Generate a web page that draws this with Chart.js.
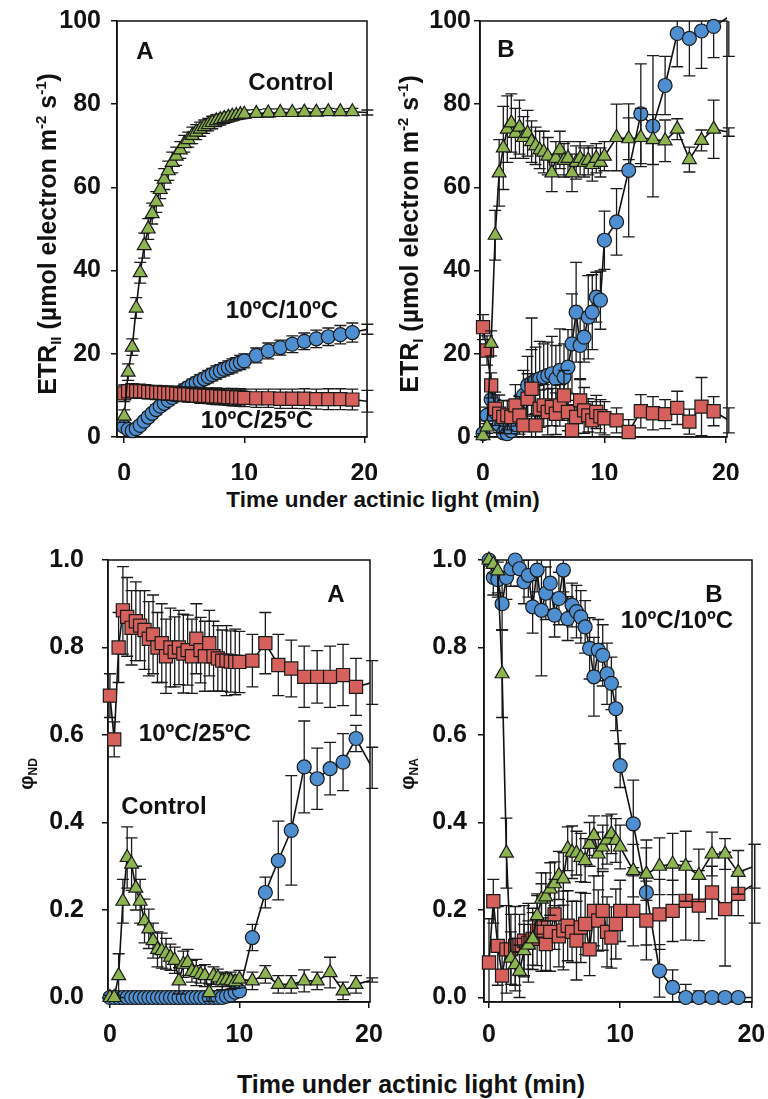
<!DOCTYPE html>
<html><head><meta charset="utf-8">
<script src="https://cdn.jsdelivr.net/npm/chart.js"></script>
<style>
html,body{margin:0;padding:0;background:#fff;}
body{width:768px;height:1099px;position:relative;overflow:hidden;font-family:"Liberation Sans",Arial,sans-serif;}
canvas{position:absolute;}
.xt{position:absolute;font-weight:bold;color:#111;white-space:nowrap;text-align:center;width:600px;}
</style></head><body>
<canvas id="c1" width="384" height="480" style="left:0;top:0;width:384px;height:480px"></canvas>
<canvas id="c2" width="384" height="480" style="left:384px;top:0;width:384px;height:480px"></canvas>
<canvas id="c3" width="384" height="530" style="left:0;top:530px;width:384px;height:530px"></canvas>
<canvas id="c4" width="384" height="530" style="left:384px;top:530px;width:384px;height:530px"></canvas>
<div class="xt" style="left:83px;top:489px;font-size:22.5px;line-height:22.5px">Time under actinic light (min)</div>
<div class="xt" style="left:111px;top:1072px;font-size:25px;line-height:25px">Time under actinic light (min)</div>
<script>
// ---------- data ----------
const TIME = [0, 0.33, 0.67, 1, 1.33, 1.67, 2, 2.33, 2.67, 3, 3.33, 3.67, 4, 4.33, 4.67, 5, 5.33, 5.67, 6, 6.33, 6.67, 7, 7.33, 7.67, 8, 8.33, 8.67, 9, 9.33, 9.67, 10, 11, 12, 13, 14, 15, 16, 17, 18, 19, 20.25];
const X_TICKS = [0, 10, 20];
const ETR_TICKS = [0, 20, 40, 60, 80, 100];
const PHI_TICKS = [0, 0.2, 0.4, 0.6, 0.8, 1.0];

// ETR II (panel A, top)
const ETR2_CONTROL = [5, 15.6, 21.6, 31, 39.5, 46, 50, 53.7, 56.5, 59.5, 62, 64, 66, 67.5, 69, 70.5, 71.5, 72.5, 73.3, 74, 74.6, 75.1, 75.6, 76, 76.3, 76.6, 76.9, 77.1, 77.3, 77.5, 77.6, 77.8, 77.9, 78, 78, 78.1, 78.1, 78.2, 78.2, 78.2, 78];
const ETR2_CONTROL_ERR = [1.5, 2, 2, 2.5, 2.5, 3, 2.5, 2.5, 2.5, 2.2, 2.5, 2.3, 2.5, 2.2, 2, 2, 1.8, 2, 1.8, 1.7, 1.6, 1.5, 1.5, 1.4, 1.3, 1.2, 1.2, 1.1, 1, 1, 1, 0.9, 1, 0.9, 0.8, 0.9, 0.8, 0.8, 0.7, 0.8, 0.6];
const ETR2_1010 = [2.5, 1.8, 1.5, 2, 2.8, 3.8, 4.8, 5.7, 6.6, 7.4, 8.1, 8.8, 9.5, 10.1, 10.7, 11.3, 11.9, 12.5, 13, 13.5, 14, 14.5, 15, 15.5, 15.9, 16.3, 16.7, 17.1, 17.5, 17.9, 18.3, 19.6, 20.7, 21.5, 22.3, 23, 23.6, 24.1, 24.6, 25.1, 25.9];
const ETR2_1010_ERR = [1, 0.8, 0.8, 1, 1, 1, 1.1, 1, 1.2, 1.1, 1.2, 1.2, 1.3, 1.2, 1.3, 1.4, 1.3, 1.4, 1.4, 1.5, 1.4, 1.5, 1.5, 1.6, 1.5, 1.6, 1.6, 1.7, 1.6, 1.7, 1.7, 1.8, 1.9, 1.8, 2, 2, 2.1, 2.1, 2.2, 2.3, 1.2];
const ETR2_1025 = [10.5, 11, 11.2, 11, 11, 11, 10.8, 10.8, 10.7, 10.7, 10.6, 10.5, 10.5, 10.4, 10.3, 10.2, 10.2, 10.1, 10, 10, 9.9, 9.9, 9.8, 9.8, 9.7, 9.7, 9.6, 9.6, 9.5, 9.5, 9.4, 9.3, 9.3, 9.2, 9.2, 9.2, 9.1, 9.1, 9.1, 9.0, 8.6];
const ETR2_1025_ERR = [2, 1.5, 1.6, 1.5, 1.7, 1.5, 1.6, 1.5, 1.7, 1.6, 1.6, 1.7, 1.6, 1.8, 1.7, 1.7, 1.8, 1.8, 1.7, 1.9, 1.8, 1.9, 1.9, 2, 1.9, 2, 2, 2.1, 2, 2.1, 2.1, 2.2, 2.2, 2.3, 2.3, 2.4, 2.4, 2.5, 2.5, 2.5, 2.6];

// ETR I (panel B, top)
const ETR1_CONTROL = [0.3, 2.4, 22.5, 48.5, 63.5, 69.5, 74, 75.5, 73, 74.5, 72, 73, 71, 70, 69, 68.5, 67.5, 63.5, 67, 69, 66.5, 67, 63.5, 66, 67, 66, 66.5, 65.5, 67, 66, 67.5, 72, 71.7, 72, 71.5, 71.2, 74, 66.7, 71.3, 74, 73.3];
const ETR1_CONTROL_ERR = [0.5, 1.5, 3, 6, 8, 10, 8, 7, 6, 6.5, 5, 5.5, 5, 4.5, 4.5, 5, 4.5, 4.5, 4, 4.5, 4, 4, 4.5, 4, 4, 3.5, 3.5, 4, 3.5, 3.5, 3.5, 8, 5, 7, 6, 5, 2.5, 3, 2.5, 7, 1];
const ETR1_1010 = [0.8, 5.2, 9, 6, 3, 1, 0.8, 1.5, 3, 6, 10, 12.4, 13, 13.6, 14, 14.4, 14.8, 15.2, 14, 16, 14.4, 16.8, 22.4, 30, 22, 24, 28.8, 30, 33.6, 32.9, 47.3, 51.7, 64.1, 77.7, 74.7, 84.5, 97, 95.8, 97.6, 98.7, 101];
const ETR1_1010_ERR = [1, 2, 3, 3, 2, 1, 1, 2, 3, 4, 6, 7, 8, 8, 9, 8, 8, 9, 8, 10, 8, 9, 12, 12, 8, 6, 10, 9, 6, 7, 7, 8, 16, 12, 17, 7, 8, 9, 9, 7.5, 9.5];
const ETR1_1025 = [26.4, 20.8, 12.4, 6.8, 5.6, 4.8, 5.2, 4.8, 7.6, 5.2, 2.8, 9.2, 11.6, 2.8, 6.8, 7.6, 6, 7.2, 5.6, 7.6, 10, 6, 1.6, 4.8, 8.8, 6.4, 5.2, 4, 6, 5, 4.5, 4, 1.2, 6.2, 5.7, 5.5, 7, 3.7, 7.3, 6.2, 4];
const ETR1_1025_ERR = [3, 3.5, 3, 4, 4.5, 4, 3.5, 4, 5, 4.5, 5, 6, 17, 5, 4.5, 5, 5.5, 4.5, 5, 5, 6, 4.5, 4, 4, 5, 5.5, 4, 4.5, 4, 4, 4, 3, 3, 4, 4, 3.5, 4, 3, 7, 3.5, 3];

// phi ND (panel A, bottom)
const ND_CONTROL = [0, 0, 0.05, 0.22, 0.32, 0.305, 0.25, 0.22, 0.175, 0.157, 0.13, 0.11, 0.107, 0.1, 0.092, 0.085, 0.038, 0.076, 0.08, 0.06, 0.057, 0.053, 0.05, 0.011, 0.05, 0.045, 0.038, 0.04, 0.038, 0.036, 0.042, 0.038, 0.053, 0.03, 0.03, 0.038, 0.038, 0.057, 0.015, 0.03, 0.04];
const ND_CONTROL_ERR = [0.005, 0.005, 0.05, 0.05, 0.07, 0.06, 0.05, 0.05, 0.05, 0.045, 0.04, 0.04, 0.04, 0.035, 0.03, 0.03, 0.03, 0.03, 0.03, 0.025, 0.03, 0.02, 0.025, 0.02, 0.02, 0.02, 0.02, 0.015, 0.02, 0.015, 0.02, 0.02, 0.02, 0.02, 0.02, 0.025, 0.02, 0.035, 0.02, 0.02, 0.005];
const ND_1010 = [0, 0, 0, 0, 0, 0, 0, 0, 0, 0, 0, 0, 0, 0, 0, 0, 0, 0, 0, 0, 0, 0, 0, 0, 0, 0, 0, 0.003, 0.006, 0.012, 0.015, 0.137, 0.24, 0.313, 0.382, 0.527, 0.5, 0.523, 0.538, 0.592, 0.525];
const ND_1010_ERR = [0, 0, 0, 0, 0, 0, 0, 0, 0, 0, 0, 0, 0, 0, 0, 0, 0, 0, 0, 0, 0, 0, 0, 0, 0, 0, 0, 0, 0.005, 0.008, 0.01, 0.03, 0.035, 0.09, 0.125, 0.105, 0.07, 0.06, 0.065, 0.03, 0.047];
const ND_1025 = [0.69, 0.59, 0.80, 0.885, 0.87, 0.845, 0.86, 0.85, 0.84, 0.82, 0.83, 0.80, 0.81, 0.78, 0.80, 0.79, 0.80, 0.786, 0.794, 0.78, 0.82, 0.794, 0.78, 0.81, 0.78, 0.775, 0.77, 0.77, 0.768, 0.767, 0.767, 0.77, 0.81, 0.76, 0.752, 0.733, 0.733, 0.733, 0.737, 0.71, 0.72];
const ND_1025_ERR = [0.05, 0.04, 0.08, 0.1, 0.09, 0.085, 0.09, 0.08, 0.09, 0.085, 0.09, 0.08, 0.09, 0.085, 0.09, 0.08, 0.085, 0.09, 0.08, 0.085, 0.08, 0.075, 0.08, 0.075, 0.08, 0.075, 0.07, 0.08, 0.07, 0.075, 0.07, 0.06, 0.07, 0.07, 0.065, 0.07, 0.06, 0.07, 0.07, 0.065, 0.05];

// phi NA (panel B, bottom)
const NA_CONTROL = [1.0, 0.99, 0.975, 0.74, 0.33, 0.09, 0.075, 0.06, 0.107, 0.12, 0.134, 0.187, 0.225, 0.23, 0.248, 0.26, 0.279, 0.271, 0.34, 0.332, 0.33, 0.32, 0.313, 0.35, 0.37, 0.328, 0.344, 0.36, 0.374, 0.359, 0.344, 0.29, 0.282, 0.30, 0.305, 0.30, 0.279, 0.328, 0.328, 0.286, 0.30];
const NA_CONTROL_ERR = [0.01, 0.02, 0.05, 0.1, 0.08, 0.06, 0.06, 0.06, 0.06, 0.055, 0.06, 0.05, 0.06, 0.055, 0.06, 0.05, 0.055, 0.06, 0.05, 0.06, 0.05, 0.055, 0.05, 0.05, 0.045, 0.05, 0.05, 0.055, 0.045, 0.05, 0.05, 0.06, 0.06, 0.065, 0.07, 0.08, 0.06, 0.05, 0.035, 0.05, 0.05];
const NA_1010 = [1.0, 0.96, 0.955, 0.90, 0.96, 0.98, 1.0, 0.98, 0.95, 0.965, 0.893, 0.977, 0.885, 0.924, 0.947, 0.874, 0.912, 0.977, 0.866, 0.897, 0.882, 0.87, 0.847, 0.798, 0.733, 0.794, 0.782, 0.74, 0.718, 0.66, 0.53, 0.397, 0.24, 0.061, 0.023, 0, 0, 0, 0, 0, 0];
const NA_1010_ERR = [0.01, 0.04, 0.04, 0.06, 0.05, 0.04, 0.03, 0.04, 0.05, 0.05, 0.06, 0.05, 0.15, 0.06, 0.06, 0.05, 0.06, 0.05, 0.05, 0.05, 0.06, 0.06, 0.06, 0.07, 0.09, 0.07, 0.07, 0.07, 0.06, 0.05, 0.05, 0.1, 0.12, 0.06, 0.04, 0.03, 0.015, 0, 0, 0, 0];
const NA_1025 = [0.08, 0.22, 0.118, 0.05, 0.11, 0.11, 0.118, 0.12, 0.13, 0.125, 0.134, 0.153, 0.16, 0.122, 0.15, 0.19, 0.14, 0.153, 0.164, 0.15, 0.13, 0.16, 0.168, 0.11, 0.198, 0.176, 0.198, 0.15, 0.137, 0.168, 0.198, 0.198, 0.176, 0.19, 0.198, 0.221, 0.21, 0.24, 0.202, 0.237, 0.26];
const NA_1025_ERR = [0.1, 0.05, 0.09, 0.06, 0.1, 0.08, 0.09, 0.07, 0.08, 0.09, 0.07, 0.08, 0.1, 0.06, 0.09, 0.08, 0.07, 0.09, 0.08, 0.07, 0.09, 0.08, 0.07, 0.06, 0.08, 0.07, 0.09, 0.08, 0.07, 0.08, 0.07, 0.08, 0.09, 0.08, 0.07, 0.09, 0.08, 0.06, 0.13, 0.05, 0.09];

// ---------- styling ----------
const FONT = '"Liberation Sans", Arial, Helvetica, sans-serif';
const GREEN = '#8db450', BLUE = '#4d8fd0', RED = '#d6605b', INK = '#111';

const errPlugin = {
  id: 'errBars',
  beforeDatasetDraw(chart, args) {
    const ds = chart.data.datasets[args.index];
    if (!ds.errors) return;
    const ctx = chart.ctx, xs = chart.scales.x, ys = chart.scales.y, ca = chart.chartArea;
    ctx.save();
    ctx.beginPath();
    ctx.rect(ca.left - 14, ca.top, ca.right - ca.left + 28, ca.bottom - ca.top);
    ctx.clip();
    ctx.strokeStyle = '#1a1a1a';
    ctx.lineWidth = 1.3;
    ds.data.forEach((p, i) => {
      const e = ds.errors[i];
      if (!e) return;
      const px = xs.getPixelForValue(p.x);
      const y1 = ys.getPixelForValue(p.y + e), y2 = ys.getPixelForValue(p.y - e);
      ctx.beginPath();
      ctx.moveTo(px, y1); ctx.lineTo(px, y2);
      ctx.moveTo(px - 6, y1); ctx.lineTo(px + 6, y1);
      ctx.moveTo(px - 6, y2); ctx.lineTo(px + 6, y2);
      ctx.stroke();
    });
    ctx.restore();
  }
};

function rich(ctx, segs, cx, cy, rot) {
  ctx.save();
  ctx.translate(cx, cy);
  ctx.rotate(rot);
  ctx.fillStyle = INK;
  ctx.textAlign = 'left';
  ctx.textBaseline = 'alphabetic';
  let total = 0;
  const ws = segs.map(s => {
    ctx.font = `${s.w || 'bold'} ${s.size}px ${FONT}`;
    const w = ctx.measureText(s.t).width;
    total += w;
    return w;
  });
  let x = -total / 2;
  const base = segs[0].size * 0.36;
  segs.forEach((s, i) => {
    ctx.font = `${s.w || 'bold'} ${s.size}px ${FONT}`;
    ctx.fillText(s.t, x, base + (s.dy || 0));
    x += ws[i];
  });
  ctx.restore();
}

function decoPlugin(o) {
  return {
    id: 'deco',
    beforeDatasetsDraw(chart) {
      const ctx = chart.ctx, ca = chart.chartArea;
      ctx.save();
      ctx.strokeStyle = INK;
      ctx.lineWidth = 1.5;
      ctx.strokeRect(ca.left, ca.top, ca.right - ca.left, ca.bottom - ca.top);
      ctx.restore();
    },
    afterDatasetsDraw(chart) {
      const ctx = chart.ctx;
      ctx.save();
      ctx.fillStyle = INK;
      ctx.textAlign = 'center';
      ctx.textBaseline = 'middle';
      o.notes.forEach(n => {
        ctx.font = `bold ${n.size}px ${FONT}`;
        ctx.fillText(n.t, n.x, n.y);
      });
      ctx.restore();
      rich(ctx, o.title.segs, o.title.x, o.title.y, -Math.PI / 2);
    }
  };
}

function panel(id, o) {
  const tickFont = { family: FONT, size: 25, weight: 'bold' };
  return new Chart(document.getElementById(id), {
    type: 'scatter',
    data: {
      datasets: o.series.map(s => ({
        data: TIME.map((t, i) => ({ x: t, y: s.values[i] })),
        errors: s.errors,
        showLine: true,
        borderColor: INK,
        borderWidth: 1.6,
        tension: 0,
        pointStyle: s.style,
        pointRadius: c => (c.raw && c.raw.x > 20 ? 0 : s.r),
        pointBackgroundColor: s.color,
        pointBorderColor: '#1a1a1a',
        pointBorderWidth: 1.2,
        clip: { left: 15, top: 12, right: 0, bottom: 12 }
      }))
    },
    options: {
      responsive: false,
      animation: false,
      events: [],
      layout: { autoPadding: false, padding: { left: 0, top: o.top, right: o.right, bottom: 0 } },
      plugins: { legend: { display: false }, tooltip: { enabled: false } },
      scales: {
        x: {
          type: 'linear', min: o.xMin, max: o.xMax,
          afterBuildTicks: a => { a.ticks = X_TICKS.map(v => ({ value: v })); },
          afterFit: s => { s.height = o.xH; s.paddingLeft = 0; s.paddingRight = 0; },
          grid: { drawOnChartArea: false, drawTicks: true, tickLength: 6, color: INK, lineWidth: 1.5 },
          border: { display: true, color: INK, width: 1.5 },
          ticks: { padding: o.xPad, maxRotation: 0, autoSkip: false, color: INK, font: tickFont }
        },
        y: {
          type: 'linear', min: o.yMin, max: o.yMax,
          afterBuildTicks: a => { a.ticks = o.yTicks.map(v => ({ value: v })); },
          afterFit: s => { s.width = o.yW; s.paddingTop = 0; s.paddingBottom = 0; },
          grid: { drawOnChartArea: false, drawTicks: true, tickLength: 6, color: INK, lineWidth: 1.5 },
          border: { display: true, color: INK, width: 1.5 },
          ticks: { padding: o.yPad, autoSkip: false, color: INK, font: tickFont, callback: o.yFmt }
        }
      }
    },
    plugins: [errPlugin, decoPlugin(o)]
  });
}

const intFmt = v => String(Math.round(v));
const oneDec = v => v.toFixed(1);
const etrTitle = sub => [
  { t: 'ETR', size: 25 }, { t: sub, size: 15, dy: 5 },
  { t: ' (\u00b5mol electron m', size: 25 }, { t: '-2', size: 15, dy: -10 },
  { t: ' s', size: 25 }, { t: '-1', size: 15, dy: -10 }, { t: ')', size: 25 }
];

const TRI = 8, RECT = 9.3, CIRC = 7;

panel('c1', {
  top: 21, right: 17, yW: 117, xH: 43, yPad: 10, xPad: 16,
  xMin: -0.6, xMax: 20.22, yMin: 0, yMax: 100, yTicks: ETR_TICKS, yFmt: intFmt,
  series: [
    { values: ETR2_CONTROL, errors: ETR2_CONTROL_ERR, style: 'triangle', color: GREEN, r: TRI },
    { values: ETR2_1025, errors: ETR2_1025_ERR, style: 'rect', color: RED, r: RECT },
    { values: ETR2_1010, errors: ETR2_1010_ERR, style: 'circle', color: BLUE, r: CIRC }
  ],
  notes: [
    { t: 'A', x: 145, y: 52, size: 24 },
    { t: 'Control', x: 291, y: 83, size: 24 },
    { t: '10ºC/10ºC', x: 282, y: 311, size: 24 },
    { t: '10ºC/25ºC', x: 257, y: 421, size: 24 }
  ],
  title: { segs: etrTitle('II'), x: 47, y: 234 }
});

panel('c2', {
  top: 21, right: 41, yW: 96, xH: 43, yPad: 3, xPad: 16,
  xMin: -0.25, xMax: 20.1, yMin: 0, yMax: 100, yTicks: ETR_TICKS, yFmt: intFmt,
  series: [
    { values: ETR1_CONTROL, errors: ETR1_CONTROL_ERR, style: 'triangle', color: GREEN, r: TRI },
    { values: ETR1_1025, errors: ETR1_1025_ERR, style: 'rect', color: RED, r: RECT },
    { values: ETR1_1010, errors: ETR1_1010_ERR, style: 'circle', color: BLUE, r: CIRC }
  ],
  notes: [ { t: 'B', x: 122, y: 50, size: 24 } ],
  title: { segs: etrTitle('I'), x: 25, y: 234 }
});

panel('c3', {
  top: 30, right: 14, yW: 108, xH: 58, yPad: 18, xPad: 12,
  xMin: -0.15, xMax: 20.08, yMin: -0.0103, yMax: 1.0, yTicks: PHI_TICKS, yFmt: oneDec,
  series: [
    { values: ND_CONTROL, errors: ND_CONTROL_ERR, style: 'triangle', color: GREEN, r: TRI },
    { values: ND_1025, errors: ND_1025_ERR, style: 'rect', color: RED, r: RECT },
    { values: ND_1010, errors: ND_1010_ERR, style: 'circle', color: BLUE, r: CIRC }
  ],
  notes: [
    { t: 'A', x: 336, y: 65, size: 24 },
    { t: '10ºC/25ºC', x: 195, y: 204, size: 24 },
    { t: 'Control', x: 164, y: 277, size: 24 }
  ],
  title: { segs: [ { t: '\u03c6', size: 20 }, { t: 'ND', size: 12, dy: 4 } ], x: 26, y: 244 }
});

panel('c4', {
  top: 30, right: 16, yW: 100, xH: 58, yPad: 11, xPad: 12,
  xMin: -0.38, xMax: 20.05, yMin: -0.0103, yMax: 1.0, yTicks: PHI_TICKS, yFmt: oneDec,
  series: [
    { values: NA_CONTROL, errors: NA_CONTROL_ERR, style: 'triangle', color: GREEN, r: TRI },
    { values: NA_1025, errors: NA_1025_ERR, style: 'rect', color: RED, r: RECT },
    { values: NA_1010, errors: NA_1010_ERR, style: 'circle', color: BLUE, r: CIRC }
  ],
  notes: [
    { t: 'B', x: 330, y: 65, size: 24 },
    { t: '10ºC/10ºC', x: 293, y: 91, size: 24 }
  ],
  title: { segs: [ { t: '\u03c6', size: 20 }, { t: 'NA', size: 12, dy: 4 } ], x: 23, y: 244 }
});
</script>
</body></html>
